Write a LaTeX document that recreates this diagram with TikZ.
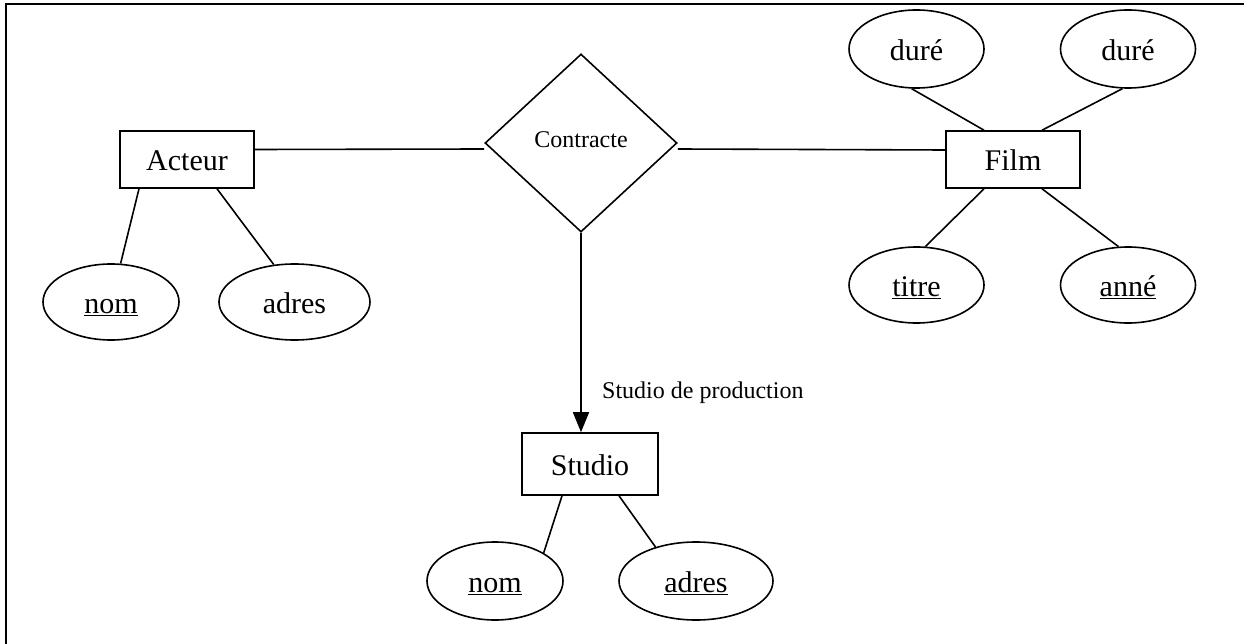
\documentclass[tikz,border=0pt]{standalone}
\usepackage{fontspec}
\setmainfont{Liberation Serif}
\usetikzlibrary{shapes.geometric,arrows.meta}
\tikzset{
  big/.style={font=\fontsize{30}{36}\selectfont, text height=25pt, text depth=2pt},
  small/.style={font=\fontsize{24}{28}\selectfont},
  entity/.style={draw, line width=1.6pt, rectangle, big, inner sep=0pt, minimum width=134pt, minimum height=57pt},
  attr/.style={draw, line width=1.6pt, ellipse, big, inner sep=0pt, minimum height=76pt},
  rel/.style={draw, line width=1.6pt, diamond, small, text height=14pt, text depth=4pt, inner sep=0pt, minimum width=192pt, minimum height=178pt},
  link/.style={draw, line width=1.6pt},
}
\begin{document}
\begin{tikzpicture}[x=1pt,y=-1pt]
\useasboundingbox (0,0) rectangle (1244,644);
% frame
\draw[line width=1.6pt] (6,644) -- (6,4) -- (1244,4);

% nodes
\node[entity] (acteur) at (187,159.5) {Acteur};
\node[entity] (film) at (1013,159.5) {Film};
\node[entity, minimum width=136pt, minimum height=62pt] (studio) at (590,464) {Studio};
\node[rel] (contr) at (581,143) {Contracte};

\node[attr, minimum width=136pt] (nomA) at (111,302) {\underline{nom}};
\node[attr, minimum width=151pt] (adresA) at (294.5,302) {adres};

\node[attr, minimum width=135pt, minimum height=78pt] (dureL) at (916.5,49) {duré};
\node[attr, minimum width=135pt, minimum height=78pt] (dureR) at (1128,49) {duré};
\node[attr, minimum width=135pt] (titre) at (916.5,285) {\underline{titre}};
\node[attr, minimum width=135pt] (anne) at (1128,285) {\underline{anné}};

\node[attr, minimum width=136pt, minimum height=78pt] (nomS) at (495,581) {\underline{nom}};
\node[attr, minimum width=154pt, minimum height=78pt] (adresS) at (696,581) {\underline{adres}};

\node[small, anchor=west, inner sep=0pt] (lab) at (602,393) {Studio de production};

% connectors
\draw[link] ([yshift=10pt]acteur.east) -- ([yshift=-6pt]contr.west);
\draw[link] ([yshift=-6pt]contr.east) -- ([yshift=9.5pt]film.west);
\draw[link, -{Triangle[length=20pt,width=16pt]}] (contr.south) -- (contr.south |- studio.north);

\draw[link] ([xshift=-48pt]acteur.south) -- (nomA.76);
\draw[link] ([xshift=30pt]acteur.south) -- (adresA.119);

\draw[link] ([xshift=-29pt]film.north) -- (dureL.-97);
\draw[link] ([xshift=29pt]film.north) -- (dureR.-98);
\draw[link] ([xshift=-29pt]film.south) -- (titre.77);
\draw[link] ([xshift=29pt]film.south) -- (anne.104);

\draw[link] ([xshift=-28pt]studio.south) -- (nomS.30);
\draw[link] ([xshift=29pt]studio.south) -- (adresS.140);
\end{tikzpicture}
\end{document}
